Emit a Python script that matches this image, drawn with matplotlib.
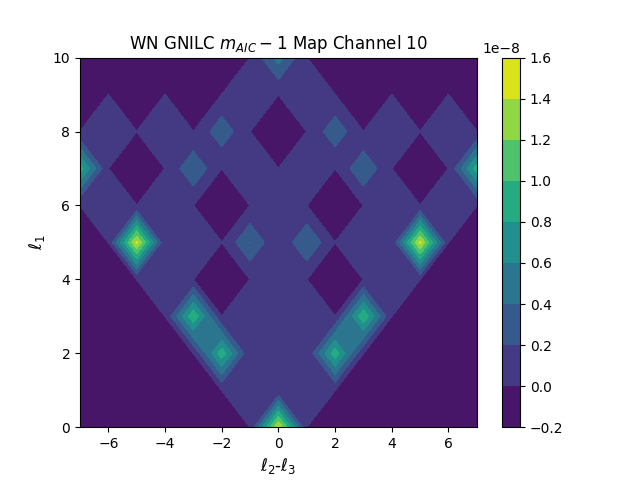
import numpy as np
import matplotlib
matplotlib.use("Agg")
import matplotlib.pyplot as plt

# l2-l3 and l1 grid
l23 = [-7, -6, -5, -4, -3, -2, -1, 0, 1, 2, 3, 4, 5, 6, 7]
l1 = [0, 1, 2, 3, 4, 5, 6, 7, 8, 9, 10]

# map values in units of 1e-8, one list per l1 row
N = -0.1    # slightly negative cells
O = 0.001   # near-zero cells
row_0 = [N, N, N, N, N, N, O, 1.42, O, N, N, N, N, N, N]
row_1 = [N, N, N, N, N, O, O, O, O, O, N, N, N, N, N]
row_2 = [N, N, N, N, O, 0.93, O, O, O, 0.93, O, N, N, N, N]
row_3 = [N, N, N, O, 0.97, O, O, O, O, O, 0.97, O, N, N, N]
row_4 = [N, N, O, O, O, N, O, O, O, N, O, O, O, N, N]
row_5 = [N, O, 1.45, O, O, O, 0.402, O, 0.402, O, O, O, 1.45, O, N]
row_6 = [O, O, O, O, O, N, O, O, O, N, O, O, O, O, O]
row_7 = [0.9, O, N, O, 0.38, O, O, O, O, O, 0.38, O, N, O, 0.9]
row_8 = [O, O, O, O, O, 0.34, O, N, O, 0.34, O, O, O, O, O]
row_9 = [N, O, N, O, N, O, O, O, O, O, N, O, N, O, N]
row_10 = [N, N, N, N, N, N, O, 0.49, O, N, N, N, N, N, N]

levels = [-0.2, 0.0, 0.2, 0.4, 0.6, 0.8, 1.0, 1.2, 1.4, 1.6]

z = np.array([row_0, row_1, row_2, row_3, row_4, row_5, row_6,
              row_7, row_8, row_9, row_10]) * 1e-8

fig, ax = plt.subplots(figsize=(6.4, 4.8), dpi=100)
cs = ax.contourf(l23, l1, z, levels=np.array(levels) * 1e-8, cmap="viridis")
fig.colorbar(cs, ax=ax)
ax.set_xlabel(r"$\ell_2$-$\ell_3$", fontsize=12)
ax.set_ylabel(r"$\ell_1$", fontsize=12)
ax.set_title(r"WN GNILC $m_{AIC}-1$ Map Channel 10")
fig.savefig("out.png", dpi=100)
